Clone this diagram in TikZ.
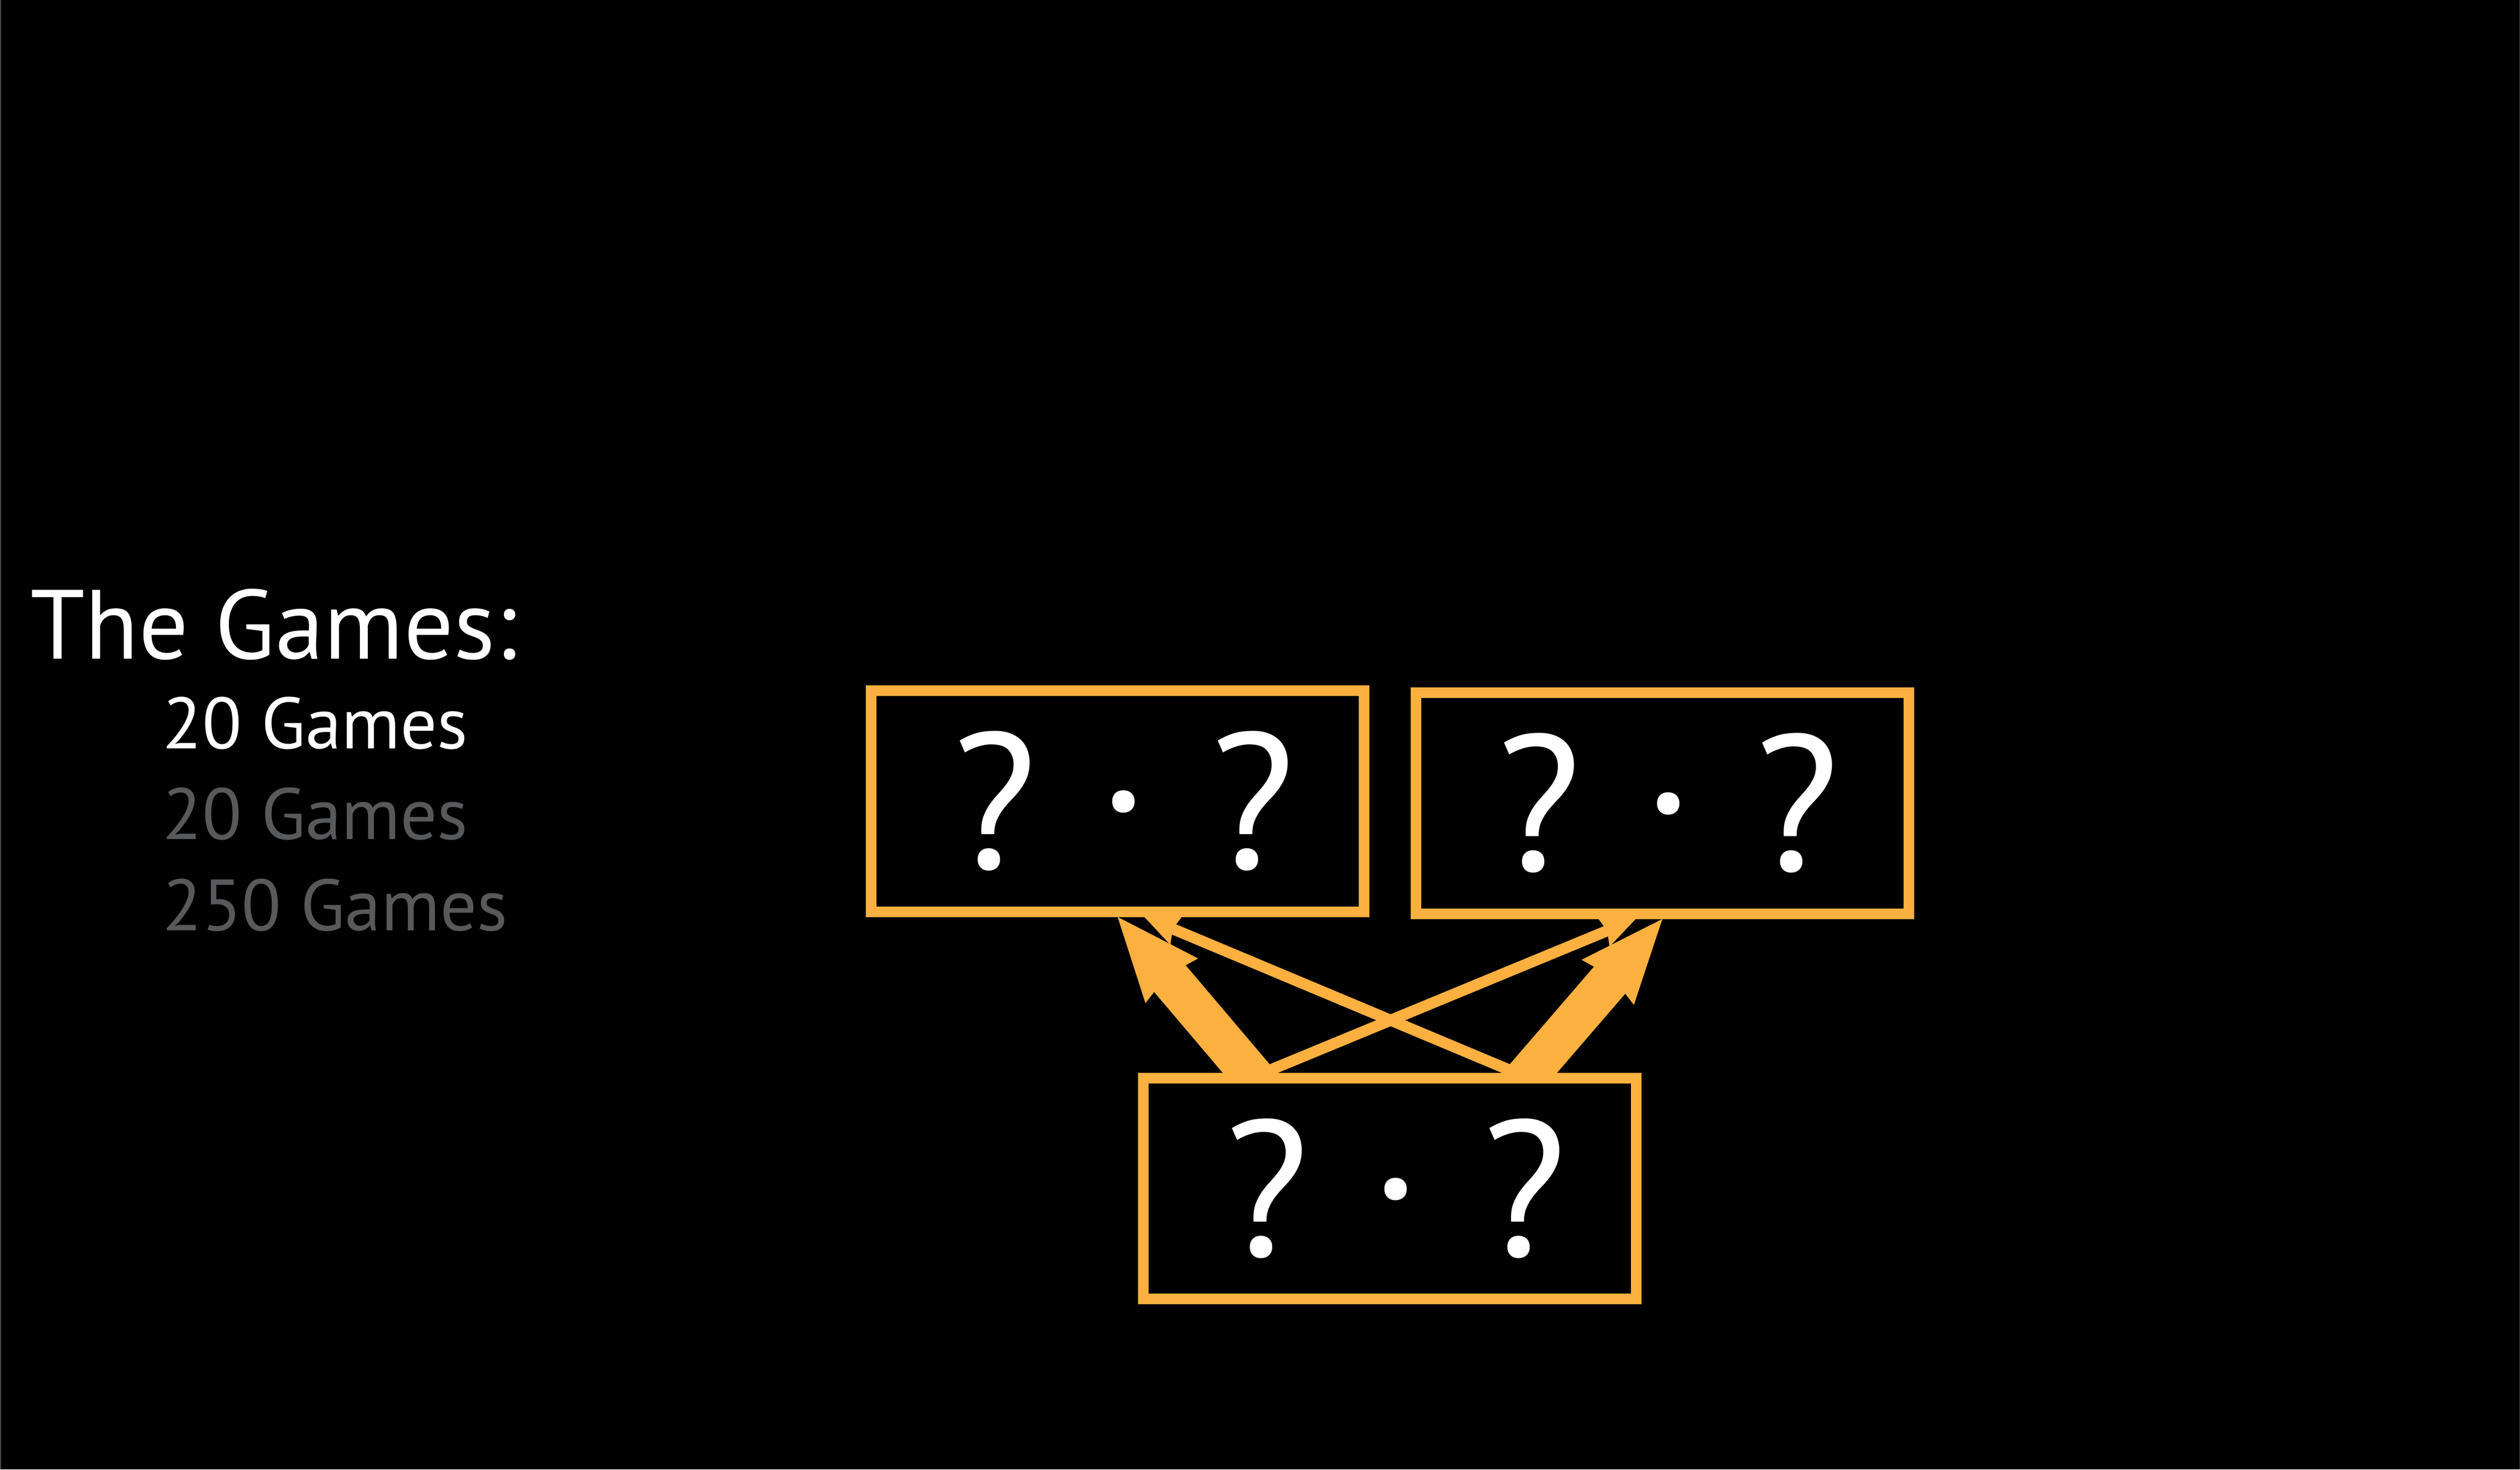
\documentclass[tikz,border=0pt]{standalone}
\usepackage{fontspec}
\setmainfont{PT Sans}
\usetikzlibrary{arrows.meta,backgrounds}
\definecolor{gameorange}{RGB}{251,176,64}
\definecolor{gamegrey}{RGB}{88,89,91}
\definecolor{framegrey}{RGB}{77,77,77}
\tikzset{>=Stealth}
\newcommand{\qdq}{\hspace{0.24cm}\makebox[0pt]{?}\hspace{2.56cm}\makebox[0pt]{\raisebox{1.15cm}{.}}\hspace{2.56cm}\makebox[0pt]{?}}

\begin{document}
\begin{tikzpicture}[
  gamebox/.style={draw=gameorange, fill=black, line width=0.21cm, minimum width=9.78cm, minimum height=4.39cm, inner sep=0pt, text=white, font=\fontsize{109}{120}\selectfont},
  bigarrow/.style={draw=gameorange, line width=0.82cm, shorten <=-0.5cm, -{Stealth[length=1.66cm, width=1.37cm, inset=0.14cm, line width=0pt]}},
  smallarrow/.style={draw=gameorange, line width=0.22cm, shorten <=-0.5cm, -{Stealth[length=0.69cm, width=0.62cm, inset=0.08cm, line width=0pt]}},
  heading/.style={anchor=base west, inner sep=0pt, text=white, font=\fontsize{55.5}{60}\selectfont},
  gamecount/.style={anchor=base west, inner sep=0pt, font=\fontsize{41}{46}\selectfont}]
\useasboundingbox (0,0) rectangle (50.01,29.17);
% the games
\node[heading] (title) at (0.60,16.09) {The Games:};
\node[gamecount, text=white] (first) at (3.22,14.31) {20 Games};
\node[gamecount, text=gamegrey] (second) at (3.22,12.51) {20 Games};
\node[gamecount, text=gamegrey] (third) at (3.22,10.70) {250 Games};
% boxes
\node[gamebox] (left) at (22.18,13.27) {\qdq};
\node[gamebox] (right) at (32.99,13.23) {\qdq};
\node[gamebox] (bot) at (27.58,5.58) {\qdq};
\draw[framegrey, line width=0.015cm] (0.0075,29.17) -- (0.0075,0.0075) -- (50.0025,0.0075) -- (50.0025,29.17);
\begin{scope}[on background layer]
\fill[black] (0,0) rectangle (50.01,29.17);
\draw[bigarrow] ([xshift=-2.78cm]bot.north) -- (left.south);
\draw[bigarrow] ([xshift=2.78cm]bot.north) -- (right.south);
\draw[smallarrow] ([xshift=2.50cm]bot.north) -- ([xshift=0.53cm]left.south);
\draw[smallarrow] ([xshift=-2.50cm]bot.north) -- ([xshift=-0.53cm]right.south);
\end{scope}
\end{tikzpicture}
\end{document}
